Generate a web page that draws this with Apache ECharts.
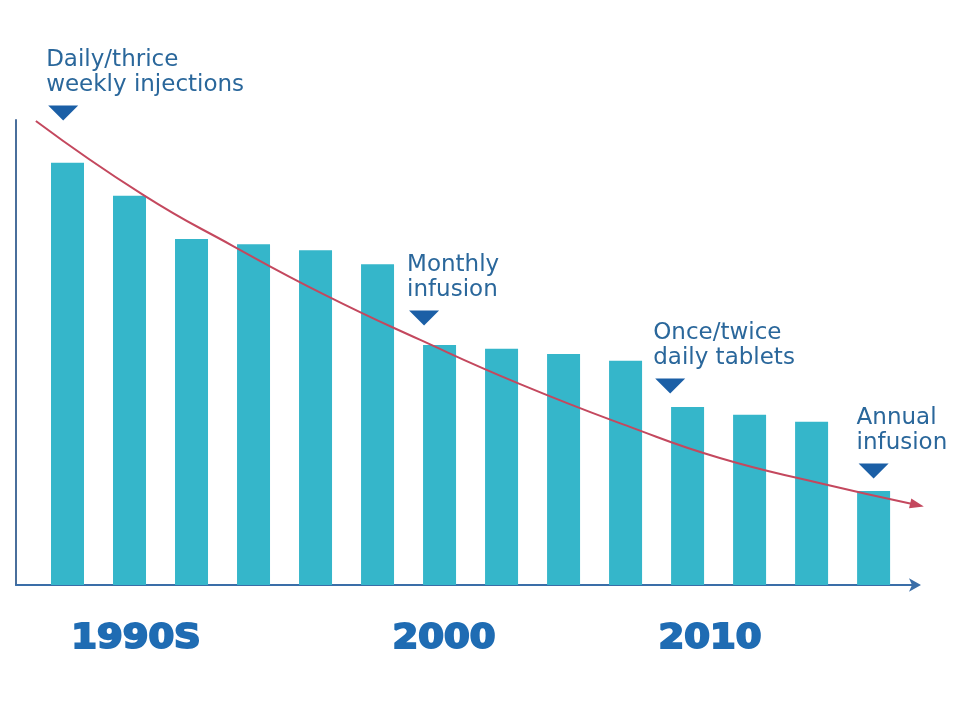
<!DOCTYPE html>
<html>
<head>
<meta charset="utf-8">
<script src="https://cdn.jsdelivr.net/npm/echarts@6/dist/echarts.min.js"></script>
<style>
html,body{margin:0;padding:0;background:#fff;}
#chart{width:980px;height:715px;}
</style>
</head>
<body>
<div id="chart"></div>
<script>
// Bars (index along the timeline, relative height)
const barIndex = [0, 1, 2, 3, 4, 5, 6, 7, 8, 9, 10, 11, 12, 13];
const barValues = [90.8, 83.7, 74.4, 73.3, 72.0, 69.0, 51.6, 50.8, 49.7, 48.2, 38.3, 36.6, 35.1, 20.2];

// Trend curve
const trendX = [-0.51, 1.22, 2.67, 4.15, 5.69, 7.30, 9.07, 10.52, 12.14, 13.70];
const trendY = [99.8, 83.9, 72.9, 62.4, 52.7, 43.2, 34.0, 27.3, 21.9, 17.2];

// Annotations (marker position along the timeline)
const annotationText = ['Daily/thrice\nweekly injections', 'Monthly\ninfusion', 'Once/twice\ndaily tablets', 'Annual\ninfusion'];
const annotationX = [-0.07, 5.75, 9.72, 13.0];
const annotationY = [101.5, 57.4, 42.8, 24.5];

// Period labels under the axis
const periodLabels = ['1990S', '2000', '2010'];
const periodCenters = [136, 444, 710];

const chart = echarts.init(document.getElementById('chart'));

const trendData = trendX.map((x, i) => {
  if (i === trendX.length - 1) {
    return { value: [x, trendY[i]], symbol: 'triangle', symbolSize: [10, 14], symbolRotate: -103 };
  }
  return [x, trendY[i]];
});

chart.setOption({
  animation: false,
  backgroundColor: '#ffffff',
  grid: { left: 16, right: 63, top: 120, bottom: 130 },
  xAxis: {
    type: 'value',
    min: -0.8306,
    max: 13.70,
    axisLine: { show: true, onZero: false, lineStyle: { color: '#3a6ea8', width: 2 }, symbol: ['none', 'arrow'], symbolSize: [10, 12], symbolOffset: [0, 4] },
    axisTick: { show: false },
    axisLabel: { show: false },
    splitLine: { show: false }
  },
  yAxis: {
    type: 'value',
    min: 0,
    max: 100,
    axisLine: { show: true, onZero: false, lineStyle: { color: '#4a6f9c', width: 2 } },
    axisTick: { show: false },
    axisLabel: { show: false },
    splitLine: { show: false }
  },
  series: [
    {
      type: 'bar',
      data: barIndex.map((x, i) => [x, barValues[i]]),
      barWidth: 33,
      itemStyle: { color: '#35b6ca' },
      z: 2
    },
    {
      type: 'line',
      data: trendData,
      smooth: 0.5,
      symbol: 'none',
      clip: false,
      lineStyle: { color: '#c4485e', width: 2 },
      itemStyle: { color: '#c4485e' },
      z: 3
    },
    {
      type: 'scatter',
      data: annotationX.map((x, i) => [x, annotationY[i]]),
      symbol: 'triangle',
      symbolRotate: 180,
      symbolSize: [30, 15],
      clip: false,
      itemStyle: { color: '#1b5fa6', opacity: 1 },
      label: {
        show: true,
        position: 'top',
        distance: 8,
        align: 'left',
        offset: [-17, 0],
        formatter: (p) => annotationText[p.dataIndex],
        fontFamily: 'DejaVu Sans',
        fontSize: 23,
        lineHeight: 25,
        color: '#2a679b',
        opacity: 1
      },
      z: 4
    }
  ],
  graphic: periodLabels.map((t, i) => ({
    type: 'text',
    x: periodCenters[i],
    y: 639,
    scaleX: 1.12,
    style: {
      text: t,
      font: 'bold 33px "DejaVu Sans"',
      fill: '#1f6cb3',
      stroke: '#1f6cb3',
      lineWidth: 2,
      align: 'center',
      verticalAlign: 'middle'
    }
  }))
});
</script>
</body>
</html>
